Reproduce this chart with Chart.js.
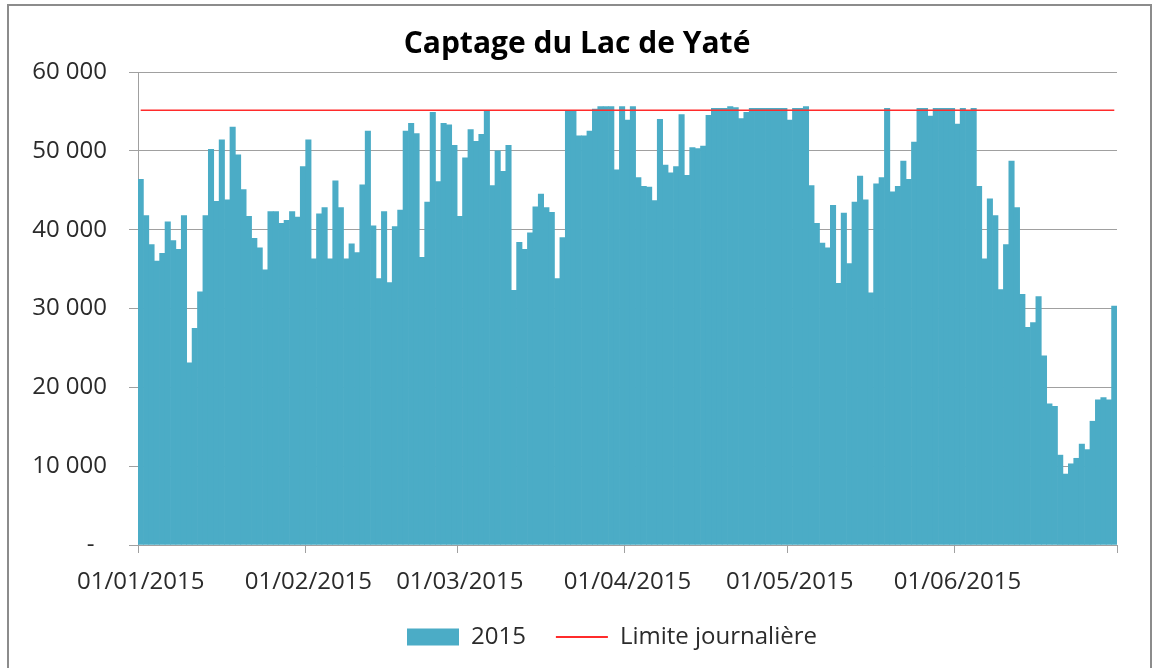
<!DOCTYPE html>
<html><head><meta charset="utf-8">
<script src="https://cdn.jsdelivr.net/npm/chart.js@4"></script>
<style>
html,body{margin:0;padding:0;background:#fff;}
#wrap{position:relative;width:1158px;height:668px;overflow:hidden;}
#frame{position:absolute;left:7px;top:4px;width:1141px;height:700px;border:2px solid #8c8c8c;pointer-events:none;}
canvas{position:absolute;left:0;top:0;}
</style></head><body>
<div id="wrap"><canvas id="c" width="1158" height="668"></canvas><div id="frame"></div></div>
<script>
const TITLE = 'Captage du Lac de Yaté';
const SERIES_NAME = '2015';
const LIMIT_NAME = 'Limite journalière';
const START_YEAR = 2015;

const JANVIER = [46400, 41800, 38100, 36000, 37000, 41000, 38600, 37500, 41800, 23100, 27500, 32100, 41800, 50200, 43600, 51400, 43800, 53000, 49500, 45100, 41700, 38900, 37700, 34900, 42300, 42300, 40800, 41200, 42300, 41600, 48000];
const FEVRIER = [51400, 36300, 42000, 42800, 36300, 46200, 42800, 36300, 38200, 37100, 45700, 52500, 40500, 33800, 42300, 33300, 40400, 42500, 52500, 53500, 52200, 36500, 43500, 54900, 46100, 53500, 53300, 50700];
const MARS = [41700, 49100, 52700, 51200, 52100, 55100, 45600, 50000, 47400, 50700, 32300, 38400, 37500, 39600, 42900, 44500, 42800, 42200, 33800, 39000, 55100, 55100, 51900, 51900, 52500, 55300, 55600, 55600, 55600, 47600, 55600];
const AVRIL = [53900, 55600, 46600, 45500, 45400, 43700, 54000, 48200, 47200, 48000, 54600, 46900, 50400, 50300, 50600, 54500, 55400, 55400, 55400, 55600, 55500, 54100, 54900, 55400, 55400, 55400, 55400, 55400, 55400, 55400];
const MAI = [53900, 55400, 55400, 55600, 45600, 40800, 38300, 37700, 43100, 33200, 42100, 35700, 43500, 46800, 43800, 32000, 45800, 46600, 55400, 44800, 45500, 48700, 46400, 51100, 55400, 55400, 54400, 55400, 55400, 55400, 55400];
const JUIN = [53400, 55400, 55000, 55400, 45500, 36300, 43900, 41800, 32400, 38100, 48700, 42800, 31800, 27600, 28200, 31500, 24000, 17900, 17600, 11400, 9000, 10300, 11000, 12800, 12100, 15700, 18400, 18700, 18400, 30300];

const LIMITE = 55150;
const MONTH_TICKS = ['01/01/2015', '01/02/2015', '01/03/2015', '01/04/2015', '01/05/2015', '01/06/2015'];
const Y_TICKS = [0, 10000, 20000, 30000, 40000, 50000, 60000];

const VALUES = [].concat(JANVIER, FEVRIER, MARS, AVRIL, MAI, JUIN);
const pad2 = n => String(n).padStart(2, '0');
const LABELS = VALUES.map((_, i) => {
  const d = new Date(Date.UTC(START_YEAR, 0, 1 + i));
  return pad2(d.getUTCDate()) + '/' + pad2(d.getUTCMonth() + 1) + '/' + d.getUTCFullYear();
});

const BAR = '#4BACC6';
const RED = '#ff2b2b';
const GRID = '#a0a0a0';
const TXT = '#2b2b2b';
const LEGEND_LEFT = 407;
const TITLE_CENTER = 577;

Chart.defaults.font.family = '"Open Sans", sans-serif';

const fmt = v => v === 0 ? '-  ' : String(v).replace(/\B(?=(\d{3})+(?!\d))/g, ' ');

const blockShift = {
  id: 'blockShift',
  afterLayout(chart) {
    const lg = chart.legend;
    if (lg && lg.lineWidths) {
      const pad = lg.options.labels.padding;
      lg.left = 2 * LEGEND_LEFT - pad - lg.right + lg.lineWidths[0];
    }
    const tb = chart.titleBlock;
    if (tb) tb.left = 2 * TITLE_CENTER - tb.right;
  }
};

new Chart(document.getElementById('c'), {
  type: 'bar',
  data: {
    labels: LABELS,
    datasets: [
      { label: SERIES_NAME, data: VALUES, backgroundColor: BAR, borderWidth: 0,
        categoryPercentage: 1, barPercentage: 1, order: 1 },
      { type: 'line', label: LIMIT_NAME,
        data: [{ x: LABELS[0], y: LIMITE }, { x: LABELS[LABELS.length - 1], y: LIMITE }],
        borderColor: RED, borderWidth: 1.5, pointRadius: 0, order: 0 }
    ]
  },
  options: {
    responsive: false, animation: false,
    layout: { padding: { left: 0, right: 41, top: 0, bottom: 9 } },
    plugins: {
      tooltip: { enabled: false },
      title: { display: true, text: TITLE, color: '#000', font: { size: 30, weight: 'bold' },
        padding: { top: 26, bottom: 10 } },
      legend: {
        position: 'bottom',
        labels: {
          usePointStyle: true, pointStyleWidth: 52, boxHeight: 17, padding: 30,
          color: TXT, font: { size: 24 },
          sort: (a, b) => a.datasetIndex - b.datasetIndex,
          generateLabels: chart => {
            const items = Chart.defaults.plugins.legend.labels.generateLabels(chart);
            items.forEach(it => {
              const ds = chart.data.datasets[it.datasetIndex];
              if (ds.type === 'line') { it.pointStyle = 'line'; it.strokeStyle = RED; it.fillStyle = RED; it.lineWidth = 2; }
              else { it.pointStyle = 'rect'; it.fillStyle = BAR; it.lineWidth = 0; }
            });
            return items;
          }
        }
      }
    },
    scales: {
      x: {
        type: 'category', offset: true,
        grid: { offset: true, drawOnChartArea: false, drawTicks: true, tickLength: 8, color: 'rgba(0,0,0,0)',
          tickColor: c => (c.index === undefined || MONTH_TICKS.includes(LABELS[c.index])) ? GRID : 'rgba(0,0,0,0)' },
        border: { display: true, color: GRID, width: 1 },
        ticks: { autoSkip: false, maxRotation: 0, minRotation: 0, padding: 15, color: TXT, font: { size: 24 },
          callback: (v, i) => MONTH_TICKS.includes(LABELS[i]) ? LABELS[i] : '' },
        afterFit: s => { s.height = 50; }
      },
      y: {
        min: 0, max: 60000,
        afterBuildTicks: s => { s.ticks = Y_TICKS.map(v => ({ value: v })); },
        ticks: { padding: 22, color: TXT, font: { size: 24 }, callback: v => fmt(v) },
        grid: { color: GRID, tickLength: 9, tickColor: GRID, lineWidth: 1 },
        border: { display: true, color: GRID, width: 1 },
        afterFit: s => { s.width = 138; }
      }
    }
  },
  plugins: [blockShift]
});
</script>
</body></html>
